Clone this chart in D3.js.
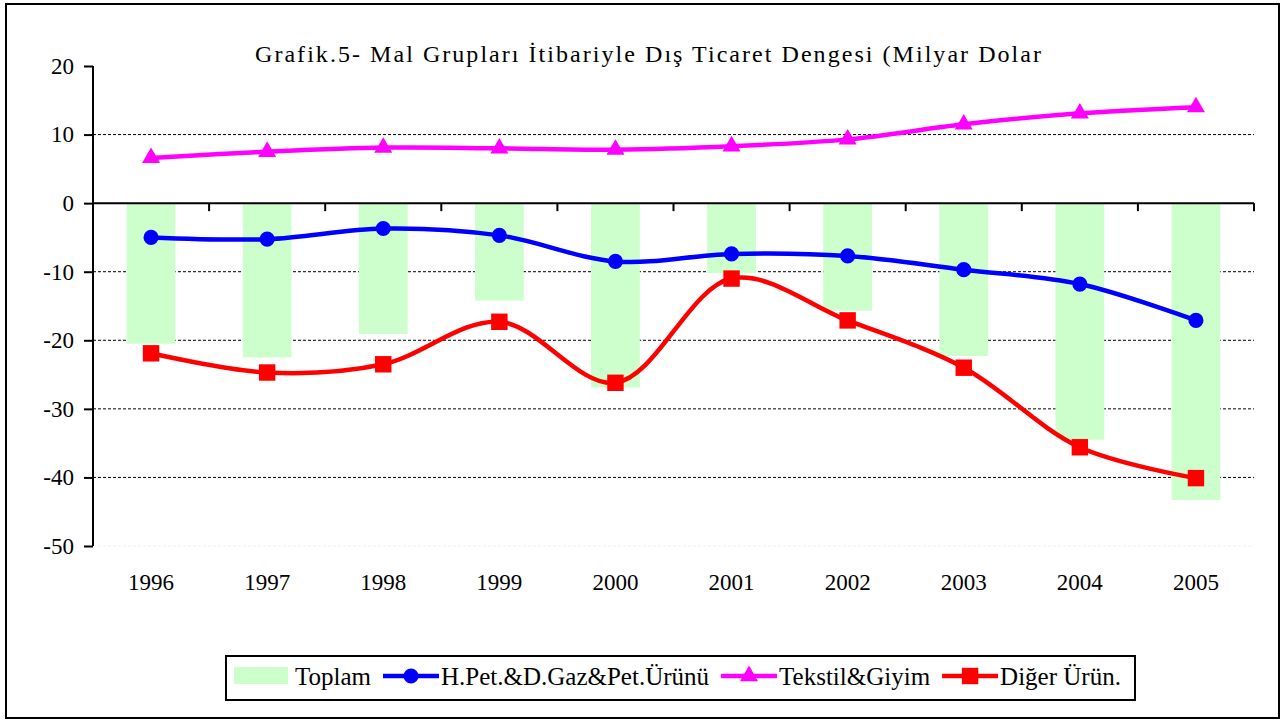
<!DOCTYPE html>
<html>
<head>
<meta charset="utf-8">
<script src="https://cdn.jsdelivr.net/npm/d3@7"></script>
<style>
  body { margin: 0; background: #fff; }
  svg text { font-family: "Liberation Serif", "Times New Roman", serif; fill: #000; }
</style>
</head>
<body>
<svg width="1284" height="720"></svg>
<script>
// values (billion $)
var years = ['1996', '1997', '1998', '1999', '2000', '2001', '2002', '2003', '2004', '2005'];
var toplam = [-20.5, -22.5, -19.1, -14.2, -26.9, -10.2, -15.7, -22.3, -34.5, -43.3];
var petrol = [-5.0, -5.25, -3.7, -4.7, -8.5, -7.4, -7.7, -9.7, -11.8, -17.1];
var tekstil = [6.6, 7.5, 8.1, 8.0, 7.8, 8.3, 9.3, 11.5, 13.1, 14.0];
var diger = [-21.9, -24.7, -23.5, -17.3, -26.2, -11.0, -17.1, -24.0, -35.6, -40.1];
var yTicks = [20, 10, 0, -10, -20, -30, -40, -50];
var gridVals = [10, -10, -20, -30, -40];
var legendNames = ['Toplam', 'H.Pet.&D.Gaz&Pet.Ürünü', 'Tekstil&Giyim', 'Diğer Ürün.'];
var title = 'Grafik.5- Mal Grupları İtibariyle Dış Ticaret Dengesi (Milyar Dolar';

var svg = d3.select('svg');
var pLeft = 93, pRight = 1254, pTop = 66, pBottom = 546;

var x = d3.scaleBand().domain(years).range([pLeft, pRight]).paddingInner(0.58).paddingOuter(0.29);
var y = d3.scaleLinear().domain([-50, 20]).range([pBottom, pTop]);
var cx = function (d, i) { return x(years[i]) + x.bandwidth() / 2; };

// outer frame
svg.append('rect').attr('x', 6).attr('y', 4).attr('width', 1273).attr('height', 714)
  .attr('fill', 'white').attr('stroke', 'black').attr('stroke-width', 2);

// title
svg.append('text').attr('x', 255).attr('y', 62).attr('font-size', 24)
  .attr('textLength', 786).attr('lengthAdjust', 'spacing').text(title);

// grid lines
svg.selectAll('.grid').data(gridVals).enter().append('line')
  .attr('x1', pLeft).attr('x2', pRight)
  .attr('y1', function (d) { return y(d); }).attr('y2', function (d) { return y(d); })
  .attr('stroke', '#000').attr('stroke-width', 1).attr('stroke-dasharray', '3,2');
svg.append('line').attr('x1', pLeft).attr('x2', pRight).attr('y1', y(-50)).attr('y2', y(-50))
  .attr('stroke', '#eee').attr('stroke-width', 1).attr('stroke-dasharray', '3,2');

// bars
svg.selectAll('.bar').data(toplam).enter().append('rect')
  .attr('x', function (d, i) { return x(years[i]); })
  .attr('width', x.bandwidth())
  .attr('y', y(0))
  .attr('height', function (d) { return y(d) - y(0); })
  .attr('fill', '#ccffcc');

// zero line + category ticks
svg.append('line').attr('x1', pLeft).attr('x2', pRight).attr('y1', y(0)).attr('y2', y(0))
  .attr('stroke', '#000').attr('stroke-width', 2);
svg.selectAll('.xt').data(d3.range(1, years.length + 1)).enter().append('line')
  .attr('x1', function (k) { return pLeft + k * x.step(); })
  .attr('x2', function (k) { return pLeft + k * x.step(); })
  .attr('y1', y(0)).attr('y2', y(0) + 8)
  .attr('stroke', '#000').attr('stroke-width', 2);

// y axis (plain hyphen for negatives, like the original)
var yAxis = svg.append('g').attr('transform', 'translate(' + pLeft + ',0)')
  .call(d3.axisLeft(y).tickValues(yTicks).tickSize(9).tickPadding(10)
    .tickFormat(function (d) { return String(d); }));
yAxis.select('.domain').attr('stroke-width', 2).attr('d', 'M0,' + pTop + 'V' + pBottom);
yAxis.selectAll('.tick line').attr('stroke-width', 2);
yAxis.selectAll('.tick text').attr('font-size', 23)
  .style('font-family', '"Liberation Serif", "Times New Roman", serif');

// year labels
svg.selectAll('.yl').data(years).enter().append('text')
  .attr('x', function (d) { return x(d) + x.bandwidth() / 2; })
  .attr('y', 590).attr('text-anchor', 'middle').attr('font-size', 23)
  .text(function (d) { return d; });

// lines
var line = d3.line().x(cx).y(function (d) { return y(d); }).curve(d3.curveCatmullRom.alpha(0.5));
var series = [
  { v: petrol, c: '#0000ff', m: 'circle' },
  { v: tekstil, c: '#ff00ff', m: 'triangle' },
  { v: diger, c: '#ff0000', m: 'square' }
];
var sym = { circle: d3.symbolCircle, triangle: d3.symbolTriangle, square: d3.symbolSquare };
var symSize = { circle: 180, triangle: 140, square: 270 };

series.forEach(function (s) {
  svg.append('path').attr('d', line(s.v)).attr('fill', 'none')
    .attr('stroke', s.c).attr('stroke-width', 4.5).attr('stroke-linejoin', 'round');
  svg.selectAll(null).data(s.v).enter().append('path')
    .attr('d', d3.symbol().type(sym[s.m]).size(symSize[s.m]))
    .attr('transform', function (d, i) { return 'translate(' + cx(d, i) + ',' + y(d) + ')'; })
    .attr('fill', s.c);
});

// legend
var lg = svg.append('g');
lg.append('rect').attr('x', 226).attr('y', 656).attr('width', 909).attr('height', 44)
  .attr('fill', 'white').attr('stroke', 'black').attr('stroke-width', 2);
var lx = 234, ly = 676;
legendNames.forEach(function (name, i) {
  if (i === 0) {
    lg.append('rect').attr('x', lx).attr('y', ly - 9).attr('width', 54).attr('height', 17).attr('fill', '#ccffcc');
    lx += 61;
  } else {
    var s = series[i - 1];
    lg.append('line').attr('x1', lx).attr('x2', lx + 56).attr('y1', ly).attr('y2', ly)
      .attr('stroke', s.c).attr('stroke-width', 4.5);
    lg.append('path').attr('d', d3.symbol().type(sym[s.m]).size(symSize[s.m]))
      .attr('transform', 'translate(' + (lx + 28) + ',' + ly + ')').attr('fill', s.c);
    lx += 58;
  }
  var t = lg.append('text').attr('x', lx).attr('y', 685).attr('font-size', 25).text(name);
  lx += t.node().getComputedTextLength() + 12;
});
</script>
</body>
</html>
